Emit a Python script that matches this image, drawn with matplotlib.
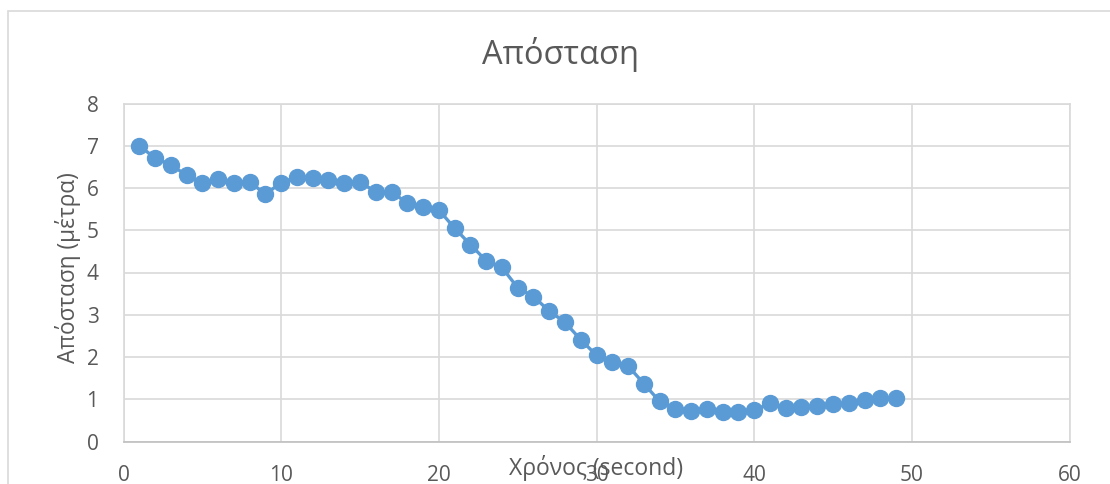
import matplotlib
matplotlib.use("Agg")
import matplotlib.pyplot as plt
from matplotlib.patches import Rectangle

plt.rcParams['font.family'] = ['Open Sans', 'DejaVu Sans']

# Time (seconds) and measured distance (metres)
time_s = list(range(1, 50))
distance_m = [
    7.00, 6.71, 6.55, 6.30, 6.12, 6.21, 6.11, 6.15, 5.85, 6.13,
    6.26, 6.23, 6.19, 6.12, 6.15, 5.90, 5.91, 5.64, 5.54, 5.48,
    5.05, 4.66, 4.28, 4.12, 3.64, 3.43, 3.09, 2.82, 2.41, 2.04,
    1.87, 1.79, 1.37, 0.95, 0.78, 0.73, 0.77, 0.70, 0.70, 0.74,
    0.90, 0.79, 0.81, 0.83, 0.88, 0.90, 0.98, 1.02, 1.03,
]
x_ticks = [0, 10, 20, 30, 40, 50, 60]
y_ticks = [0, 1, 2, 3, 4, 5, 6, 7, 8]

title = "Απόσταση"
x_label = "Χρόνος (second)"
y_label = "Απόσταση (μέτρα)"

W, H = 1110, 484
fig = plt.figure(figsize=(W / 100, H / 100), dpi=100)
fig.patch.set_facecolor("white")

# chart frame (only left/top edges fall inside the canvas)
fig.add_artist(Rectangle((8 / W, -0.1), 1.2, (H - 11) / H + 0.1,
                         transform=fig.transFigure, fill=False,
                         edgecolor="#d9d9d9", linewidth=1.2))

left, right, top, bottom = 123.5, 1069.5, 103.5, 441.5
ax = fig.add_axes([left / W, 1 - bottom / H, (right - left) / W, (bottom - top) / H])

grid_c = "#d9d9d9"
text_c = "#595959"

ax.plot(time_s, distance_m, color="#5B9BD5", linewidth=2.4,
        marker="o", markersize=11.5, markeredgecolor="#5B9BD5",
        markerfacecolor="#5B9BD5", zorder=3, clip_on=False)

ax.set_xlim(0, 60)
ax.set_ylim(0, 8)
ax.set_xticks(x_ticks)
ax.set_yticks(y_ticks)
ax.grid(True, color=grid_c, linewidth=1.2)
ax.set_axisbelow(True)
for side in ("top", "right", "left"):
    ax.spines[side].set_color(grid_c)
    ax.spines[side].set_linewidth(1.2)
ax.spines["bottom"].set_color("#bfbfbf")
ax.spines["bottom"].set_linewidth(1.2)

ax.tick_params(axis="both", length=0, labelsize=15, labelcolor=text_c)
ax.tick_params(axis="x", pad=17)
ax.tick_params(axis="y", pad=18)

fig.text(560 / W, 1 - 55 / H, title, ha="center", va="center",
         fontsize=23.5, color=text_c)
fig.text(596 / W, 1 - 468 / H, x_label, ha="center", va="center",
         fontsize=16.5, color=text_c)
fig.text(68 / W, 1 - 268 / H, y_label, ha="center", va="center",
         rotation=90, fontsize=16.3, color=text_c)

fig.savefig("out.png", dpi=100, facecolor="white")
